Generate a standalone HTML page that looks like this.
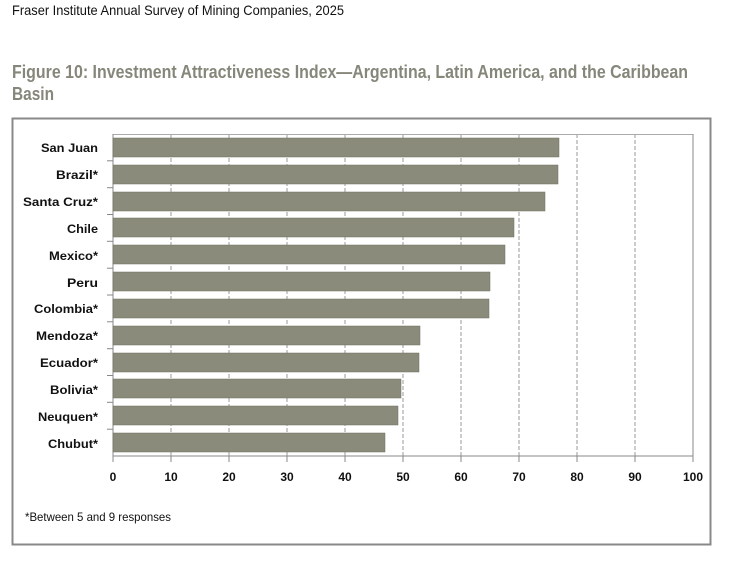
<!DOCTYPE html>
<html><head><meta charset="utf-8"><style>
html,body{margin:0;padding:0;background:#fff;}
svg{display:block;font-family:"Liberation Sans",sans-serif;}
</style></head><body>
<svg width="730" height="562" viewBox="0 0 730 562">
<text x="12" y="15" font-size="14" fill="#111" textLength="332" lengthAdjust="spacingAndGlyphs">Fraser Institute Annual Survey of Mining Companies, 2025</text>
<text x="12" y="78" font-size="18" font-weight="bold" fill="#86877a" textLength="676" lengthAdjust="spacingAndGlyphs">Figure 10: Investment Attractiveness Index—Argentina, Latin America, and the Caribbean</text>
<text x="12" y="100" font-size="18" font-weight="bold" fill="#86877a" textLength="42" lengthAdjust="spacingAndGlyphs">Basin</text>
<rect x="12.5" y="118.5" width="698" height="426" fill="#fff" stroke="#888" stroke-width="2"/>
<g stroke="#999" stroke-width="1" stroke-dasharray="4,2">
<line x1="171" y1="134" x2="171" y2="456"/><line x1="229" y1="134" x2="229" y2="456"/><line x1="287" y1="134" x2="287" y2="456"/><line x1="345" y1="134" x2="345" y2="456"/><line x1="403" y1="134" x2="403" y2="456"/><line x1="461" y1="134" x2="461" y2="456"/><line x1="519" y1="134" x2="519" y2="456"/><line x1="577" y1="134" x2="577" y2="456"/><line x1="635" y1="134" x2="635" y2="456"/>
</g>
<line x1="113" y1="134.5" x2="693" y2="134.5" stroke="#aaa"/>
<line x1="693" y1="134" x2="693" y2="462" stroke="#888"/>
<line x1="113" y1="456" x2="693" y2="456" stroke="#888"/>
<line x1="113" y1="134" x2="113" y2="456" stroke="#888"/>
<g stroke="#888">
<line x1="113" y1="456" x2="113" y2="462"/><line x1="171" y1="456" x2="171" y2="462"/><line x1="229" y1="456" x2="229" y2="462"/><line x1="287" y1="456" x2="287" y2="462"/><line x1="345" y1="456" x2="345" y2="462"/><line x1="403" y1="456" x2="403" y2="462"/><line x1="461" y1="456" x2="461" y2="462"/><line x1="519" y1="456" x2="519" y2="462"/><line x1="577" y1="456" x2="577" y2="462"/><line x1="635" y1="456" x2="635" y2="462"/>
<line x1="107" y1="160.8" x2="113" y2="160.8"/><line x1="107" y1="187.7" x2="113" y2="187.7"/><line x1="107" y1="214.5" x2="113" y2="214.5"/><line x1="107" y1="241.3" x2="113" y2="241.3"/><line x1="107" y1="268.2" x2="113" y2="268.2"/><line x1="107" y1="295" x2="113" y2="295"/><line x1="107" y1="321.8" x2="113" y2="321.8"/><line x1="107" y1="348.7" x2="113" y2="348.7"/><line x1="107" y1="375.5" x2="113" y2="375.5"/><line x1="107" y1="402.3" x2="113" y2="402.3"/><line x1="107" y1="429.2" x2="113" y2="429.2"/>
</g>
<g fill="#8a8b7a" stroke="#6f705f" stroke-width="0.5">
<rect x="113" y="138" width="446" height="19"/>
<rect x="113" y="165" width="445" height="19"/>
<rect x="113" y="192" width="432" height="19"/>
<rect x="113" y="218" width="401" height="19"/>
<rect x="113" y="245" width="392" height="19"/>
<rect x="113" y="272" width="377" height="19"/>
<rect x="113" y="299" width="376" height="19"/>
<rect x="113" y="326" width="307" height="19"/>
<rect x="113" y="353" width="306" height="19"/>
<rect x="113" y="379" width="288" height="19"/>
<rect x="113" y="406" width="285" height="19"/>
<rect x="113" y="433" width="272" height="19"/>
</g>
<g font-size="12" font-weight="bold" fill="#111" text-anchor="end" lengthAdjust="spacingAndGlyphs">
<text x="98" y="152" textLength="57" lengthAdjust="spacingAndGlyphs">San Juan</text>
<text x="98" y="179" textLength="42" lengthAdjust="spacingAndGlyphs">Brazil*</text>
<text x="98" y="206" textLength="75" lengthAdjust="spacingAndGlyphs">Santa Cruz*</text>
<text x="98" y="233" textLength="31" lengthAdjust="spacingAndGlyphs">Chile</text>
<text x="98" y="260" textLength="49" lengthAdjust="spacingAndGlyphs">Mexico*</text>
<text x="98" y="287" textLength="31" lengthAdjust="spacingAndGlyphs">Peru</text>
<text x="98" y="313" textLength="64" lengthAdjust="spacingAndGlyphs">Colombia*</text>
<text x="98" y="340" textLength="62" lengthAdjust="spacingAndGlyphs">Mendoza*</text>
<text x="98" y="367" textLength="58" lengthAdjust="spacingAndGlyphs">Ecuador*</text>
<text x="98" y="394" textLength="48" lengthAdjust="spacingAndGlyphs">Bolivia*</text>
<text x="98" y="421" textLength="60" lengthAdjust="spacingAndGlyphs">Neuquen*</text>
<text x="98" y="448" textLength="50" lengthAdjust="spacingAndGlyphs">Chubut*</text>
</g>
<g font-size="12" font-weight="bold" fill="#111" text-anchor="middle">
<text x="113" y="481">0</text><text x="171" y="481">10</text><text x="229" y="481">20</text><text x="287" y="481">30</text><text x="345" y="481">40</text><text x="403" y="481">50</text><text x="461" y="481">60</text><text x="519" y="481">70</text><text x="577" y="481">80</text><text x="635" y="481">90</text><text x="693" y="481">100</text>
</g>
<text x="25" y="521" font-size="12" fill="#111" textLength="146" lengthAdjust="spacingAndGlyphs">*Between 5 and 9 responses</text>
</svg>
</body></html>
